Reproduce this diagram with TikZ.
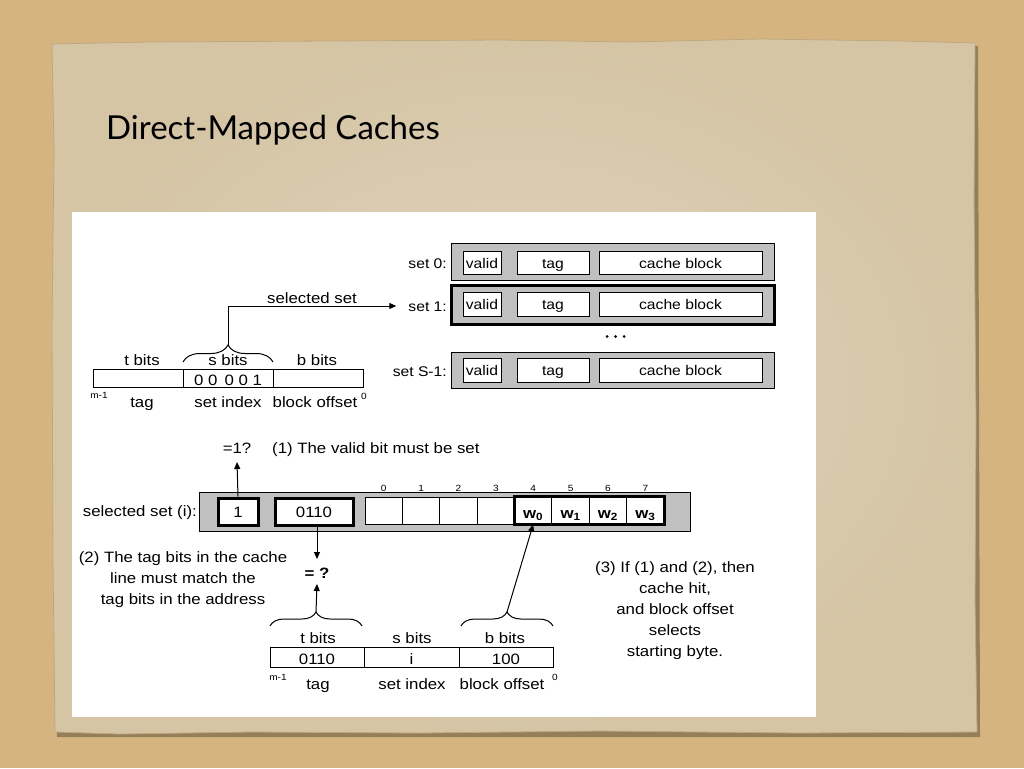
\documentclass[tikz,border=0pt]{standalone}
\usepackage{fontspec}
\setmainfont[FakeStretch=1.12]{Liberation Sans}
\newfontfamily\titlefont{Lato}
\usetikzlibrary{decorations.pathreplacing,arrows.meta}
\definecolor{bgtan}{HTML}{D5B480}
\definecolor{paper}{HTML}{D5C5A5}
\definecolor{paperlight}{HTML}{E0D5C0}
\definecolor{paperedge}{HTML}{BFA77F}
\definecolor{rowgray}{HTML}{C0C0C0}
\tikzset{
  fT/.style={font=\fontsize{14}{17}\selectfont},
  fB/.style={font=\fontsize{15}{21}\selectfont},
  lbl/.style={fB, inner sep=0pt, anchor=base, text height=10pt, text depth=0pt},
  lblT/.style={lbl, fT},
  note/.style={fB, inner sep=0pt, align=center, anchor=north},
  tiny/.style={font=\fontsize{9}{10}\selectfont, inner sep=0pt, anchor=base},
  row/.style={draw, fill=rowgray, line width=1pt, inner sep=0pt},
  cell/.style={draw, fill=white, line width=1pt, inner sep=0pt, fT, text height=11pt, text depth=0pt},
  thickcell/.style={cell, fB, line width=3pt},
  field/.style={draw, line width=1pt, inner sep=0pt, fB, text height=14pt, text depth=0pt},
  arr/.style={-{Triangle[length=7pt,width=6pt]}, line width=1pt},
  bracebig/.style={decorate, decoration={brace, amplitude=17pt}, line width=1pt},
  bracesm/.style={decorate, decoration={brace, amplitude=14pt}, line width=1pt},
}
\begin{document}
\begin{tikzpicture}[x=1pt,y=-1pt]
\useasboundingbox (0,0) rectangle (1024,768);
\fill[bgtan] (0,0) rectangle (1024,768);
% paper
\fill[black!30!bgtan] (56,47) -- (978,46) -- (980,737) -- (57,737) -- cycle;
\shade[inner color=paperlight, outer color=paper, draw=paperedge, line width=0.8pt]
  (52,44) -- (150,42) -- (330,41) -- (500,40) -- (630,42) -- (760,39) -- (900,41) -- (975,43)
  -- (974,200) -- (976,420) -- (975,600) -- (977,732)
  -- (800,733) -- (600,731) -- (420,733) -- (250,732) -- (120,734) -- (55,732)
  -- (53,560) -- (52,330) -- (54,150) -- cycle;
% title
\node[anchor=base west, inner sep=0pt, font=\titlefont\fontsize{33}{36}\selectfont] (title) at (106,139)
  {Direct-Mapped Caches};
% white panel
\fill[white] (72,212) rectangle (816,717);

% ===== cache sets =====
\node[row, minimum width=323pt, minimum height=37pt] (row0) at (612.5,261.5) {};
\node[cell, minimum width=38pt, minimum height=23pt] (v0) at (482,262.5) {valid};
\node[cell, minimum width=72pt, minimum height=23pt] (t0) at (553,262.5) {tag};
\node[cell, minimum width=163pt, minimum height=23pt] (c0) at (680.5,262.5) {cache block};
\node[lblT, anchor=base east] (s0) at (447,268) {set 0:};

\node[row, line width=3pt, minimum width=323pt, minimum height=39pt] (row1) at (612.5,304.5) {};
\node[cell, minimum width=38pt, minimum height=24pt] (v1) at (482,304) {valid};
\node[cell, minimum width=72pt, minimum height=24pt] (t1) at (553,304) {tag};
\node[cell, minimum width=163pt, minimum height=24pt] (c1) at (680.5,304) {cache block};
\node[lblT, anchor=base east] (s1) at (447,311) {set 1:};

\foreach \x in {607,615.5,624} \fill (\x,336.5) circle (1.5pt);

\node[row, minimum width=323pt, minimum height=36pt] (row2) at (612.5,370) {};
\node[cell, minimum width=38pt, minimum height=24pt] (v2) at (482,370) {valid};
\node[cell, minimum width=72pt, minimum height=24pt] (t2) at (553,370) {tag};
\node[cell, minimum width=163pt, minimum height=24pt] (c2) at (680.5,370) {cache block};
\node[lblT, anchor=base east] (s2) at (447,376.5) {set S-1:};

% ===== top address =====
\node[field, minimum width=90pt, minimum height=18pt] (at) at (138,378) {};
\node[field, minimum width=90pt, minimum height=18pt] (as) at (228,378) {0 0\, 0 0 1};
\node[field, minimum width=90pt, minimum height=18pt] (ab) at (318,378) {};
\node[lbl] (atl) at (142,365) {t bits};
\node[lbl] (asl) at (228,365.5) {s bits};
\node[lbl] (abl) at (317,365) {b bits};
\draw[bracebig] (183,362) -- (273,362);
\coordinate (stip) at (228,345);
\draw[arr, shorten >=12pt] (stip) |- (s1.west);
\node[lbl] (selset) at (312,303.5) {selected set};
\node[tiny] (am) at (99,398) {m-1};
\node[lbl] (atag) at (142,407) {tag};
\node[lbl] (aset) at (228,407) {set index};
\node[lbl] (aoff) at (315,407) {block offset};
\node[tiny] (az) at (364,399) {0};

% ===== selected set row =====
\node[row, minimum width=491pt, minimum height=39pt] (selrow) at (444.5,511.5) {};
\node[thickcell, minimum width=40pt, minimum height=27pt] (vb) at (238,511.5) {1};
\node[thickcell, minimum width=78pt, minimum height=27pt] (tb) at (314,511.5) {0110};
\foreach \i in {0,...,7} {
  \pgfmathsetmacro\cx{365+37.375*\i+18.6875}
  \node[cell, minimum width=37.375pt, minimum height=27pt] (b\i) at (\cx,510.5) {};
  \node[tiny] (n\i) at (\cx,491) {\i};
}
\foreach \i/\j in {4/0,5/1,6/2,7/3}
  \node[lbl, font=\fontsize{15}{18}\selectfont\bfseries] at (b\i |- 0,518) {w\textsubscript{\j}};
\draw[line width=3pt] (b4.north west) rectangle (b7.south east);
\node[lbl, anchor=base east] (sellbl) at (197,516) {selected set (i):};

\node[lbl] (q1) at (237,453) {=1?};
\coordinate (q1tip) at (237,462);
\draw[arr] (vb.north) -- (q1tip);
\node[lbl, anchor=base west] (n1) at (272,453) {(1) The valid bit must be set};

\node[lbl, font=\fontsize{15}{18}\selectfont\bfseries] (q2) at (317,578) {= ?};
\coordinate (q2top) at (317,559);
\coordinate (q2bot) at (317,584);
\draw[arr] (tb.south -| q2top) -- (q2top);
\node[note] (n2) at (183,551) {(2) The tag bits in the cache\\line must match the\\tag bits in the address};

% ===== bottom address =====
\node[field, minimum width=94pt, minimum height=20pt] (bt) at (317,657) {0110};
\node[field, minimum width=95pt, minimum height=20pt] (bs) at (411.5,657) {i};
\node[field, minimum width=94pt, minimum height=20pt] (bb) at (506,657) {100};
\node[lbl] (btl) at (318,643) {t bits};
\node[lbl] (bsl) at (412,643) {s bits};
\node[lbl] (bbl) at (505,643) {b bits};
\draw[bracesm] (270,626) -- (362,626);
\draw[bracesm] (461,626) -- (553,626);
\coordinate (ttip) at (316,612);
\coordinate (btip) at (507,612);
\draw[arr] (ttip) -- (q2bot);
\draw[arr] (btip) -- (b4.south);
\node[tiny] (bm) at (278,680) {m-1};
\node[lbl] (btag) at (318,689) {tag};
\node[lbl] (bset) at (412,689) {set index};
\node[lbl] (boff) at (502,689) {block offset};
\node[tiny] (bz) at (555,680) {0};

\node[note] (n3) at (675,561) {(3) If (1) and (2), then\\cache hit,\\and block offset\\selects\\starting byte.};
\end{tikzpicture}
\end{document}
